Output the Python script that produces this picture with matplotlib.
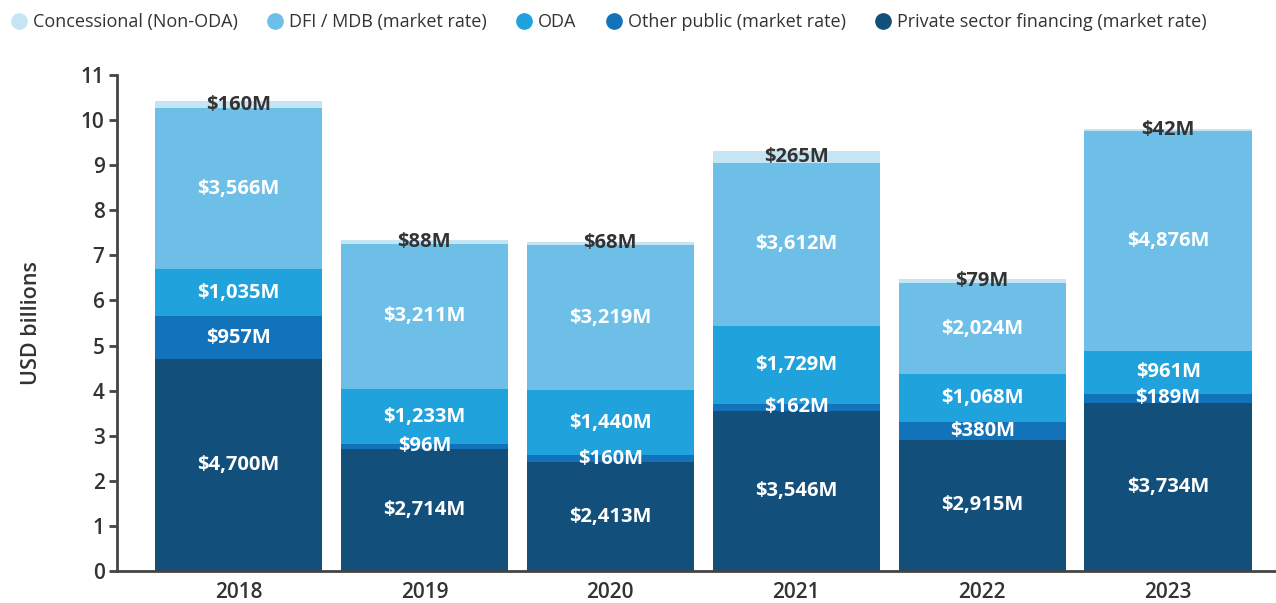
import numpy as np
import matplotlib.pyplot as plt
from matplotlib.lines import Line2D

years = ['2018', '2019', '2020', '2021', '2022', '2023']
series = ['Private sector financing (market rate)', 'Other public (market rate)',
          'ODA', 'DFI / MDB (market rate)', 'Concessional (Non-ODA)']
private = [4700, 2714, 2413, 3546, 2915, 3734]
other_public = [957, 96, 160, 162, 380, 189]
oda = [1035, 1233, 1440, 1729, 1068, 961]
dfi = [3566, 3211, 3219, 3612, 2024, 4876]
concessional = [160, 88, 68, 265, 79, 42]

colors = ['#124f7b', '#1273bb', '#20a2dc', '#6dbfe8', '#c5e5f5']
values = [private, other_public, oda, dfi, concessional]

plt.rcParams['font.family'] = ['Open Sans', 'DejaVu Sans']

fig = plt.figure(figsize=(12.76, 6.03), dpi=100)
ax = fig.add_axes([0.0917, 0.053, 0.9083, 0.8226])

x = np.arange(len(years))
bottom = np.zeros(len(years))
for k, (vals, col) in enumerate(zip(values, colors)):
    v = np.array(vals) / 1000
    ax.bar(x, v, 0.9, bottom=bottom, color=col)
    for i in range(len(years)):
        tc = '#333333' if k == 4 else 'white'
        ax.text(x[i], bottom[i] + v[i] / 2, '${:,}M'.format(vals[i]),
                ha='center', va='center', color=tc, fontsize=14.5, fontweight='bold')
    bottom += v

ax.set_xlim(-0.653, 5.58)
ax.set_ylim(0, 11)
ax.set_yticks(range(0, 12))
ax.set_xticks(x)
ax.set_xticklabels(years)
ax.tick_params(axis='x', length=0, pad=8, labelsize=15, labelcolor='#333333')
ax.tick_params(axis='y', length=6, width=2, color='#444444', labelsize=15,
               labelcolor='#333333', pad=3)
for lab in ax.get_xticklabels() + ax.get_yticklabels():
    lab.set_fontweight('semibold')
for s in ['top', 'right']:
    ax.spines[s].set_visible(False)
for s in ['left', 'bottom']:
    ax.spines[s].set_linewidth(2)
    ax.spines[s].set_color('#444444')
ax.set_ylabel('USD billions', fontsize=15.5, fontweight='semibold', color='#333333', labelpad=28)

handles = [Line2D([], [], marker='o', linestyle='', markersize=11, color=c)
           for c in colors[::-1]]
fig.legend(handles, series[::-1], loc='upper left', bbox_to_anchor=(0.0024, 0.99), ncol=5,
           frameon=False, fontsize=13, handlelength=1.0, handletextpad=0.28,
           columnspacing=1.55, labelcolor='#333333', borderaxespad=0, borderpad=0.4)

fig.savefig('out.png', dpi=100)
